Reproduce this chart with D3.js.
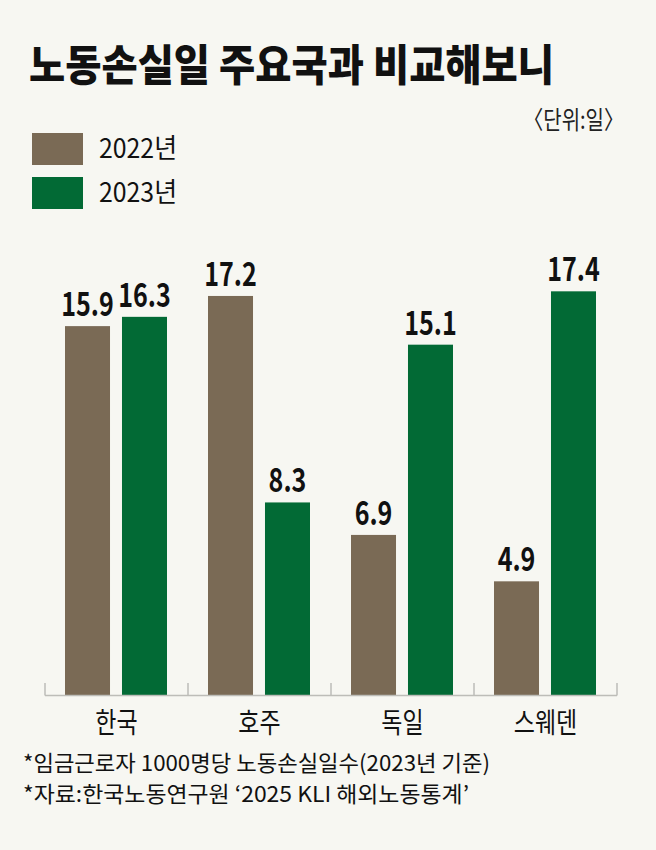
<!DOCTYPE html>
<html>
<head>
<meta charset="utf-8">
<script src="https://cdn.jsdelivr.net/npm/d3@7"></script>
<style>
  html, body { margin: 0; padding: 0; background: #f7f7f2; }
  svg { display: block; }
</style>
</head>
<body>
<div id="chart"></div>
<script>
// chart data
var categories = ["한국", "호주", "독일", "스웨덴"]
var seriesNames = ["2022년", "2023년"]
var values2022 = [15.9, 17.2, 6.9, 4.9]
var values2023 = [16.3, 8.3, 15.1, 17.4]
var seriesColors = ["#7a6a55", "#026a35"]

var titleText = "노동손실일 주요국과 비교해보니"
var unitText = "〈단위:일〉"
var notes = ["*임금근로자 1000명당 노동손실일수(2023년 기준)", "*자료:한국노동연구원 ‘2025 KLI 해외노동통계’"]

var width = 656, height = 850
var baseFont = "'Noto Sans CJK KR', sans-serif"

var svg = d3.select("#chart").append("svg")
    .attr("width", width)
    .attr("height", height)

svg.append("rect").attr("width", width).attr("height", height).attr("fill", "#f7f7f2")

// squeeze text horizontally, the original uses a condensed face
function squeeze(sel, ratio) {
    sel.each(function() {
        var w = this.getComputedTextLength()
        d3.select(this).attr("textLength", w * ratio).attr("lengthAdjust", "spacingAndGlyphs")
    })
}
function fitTo(sel, w) {
    sel.attr("textLength", w).attr("lengthAdjust", "spacingAndGlyphs")
}

// title
svg.append("text")
    .attr("x", 29).attr("y", 81)
    .style("font-family", baseFont)
    .style("font-weight", 900)
    .style("font-size", "43px")
    .attr("fill", "#111")
    .text(titleText)
    .call(fitTo, 525)

// unit
svg.append("text")
    .attr("x", 624).attr("y", 129)
    .attr("text-anchor", "end")
    .style("font-family", baseFont)
    .style("font-size", "25px")
    .attr("fill", "#222")
    .text(unitText)
    .call(squeeze, 0.8)

// legend
var legend = svg.append("g")
seriesNames.forEach(function(name, i) {
    var ly = 133 + i * 44
    legend.append("rect")
        .attr("x", 32).attr("y", ly)
        .attr("width", 51).attr("height", 32)
        .attr("fill", seriesColors[i])
    legend.append("text")
        .attr("x", 99).attr("y", ly + 25)
        .style("font-family", baseFont)
        .style("font-size", "27px")
        .attr("fill", "#111")
        .text(name)
        .call(fitTo, 78)
})

// scales
var baseY = 695
var x0 = d3.scaleBand().domain(categories).range([45, 617]).padding(0)
var x1 = d3.scaleBand().domain(seriesNames).range([20, 122]).paddingInner(0.21).paddingOuter(0)
var y = d3.scaleLinear().domain([0, 20]).range([baseY, baseY - 23.2 * 20])

var rows = categories.map(function(c, i) {
    return { country: c, vals: [values2022[i], values2023[i]] }
})

var groups = svg.append("g").selectAll("g")
    .data(rows)
    .enter().append("g")
    .attr("transform", function(d) { return "translate(" + x0(d.country) + ",0)" })

groups.selectAll("rect")
    .data(function(d) { return d.vals.map(function(v, j) { return { key: seriesNames[j], v: v, j: j } }) })
    .enter().append("rect")
    .attr("x", function(d) { return x1(d.key) })
    .attr("y", function(d) { return y(d.v) })
    .attr("width", x1.bandwidth())
    .attr("height", function(d) { return baseY - y(d.v) })
    .attr("fill", function(d) { return seriesColors[d.j] })

groups.selectAll("text.val")
    .data(function(d) { return d.vals.map(function(v, j) { return { key: seriesNames[j], v: v } }) })
    .enter().append("text")
    .attr("class", "val")
    .attr("x", function(d) { return x1(d.key) + x1.bandwidth() / 2 })
    .attr("y", function(d) { return y(d.v) - 10 })
    .attr("text-anchor", "middle")
    .style("font-family", baseFont)
    .style("font-weight", 700)
    .style("font-size", "33px")
    .attr("fill", "#111")
    .text(function(d) { return d3.format(".1f")(d.v) })
    .call(squeeze, 0.76)

// axis line with ticks at group borders
var axis = svg.append("g").attr("stroke", "#bdbdb8").attr("stroke-width", 1.5)
axis.append("line")
    .attr("x1", x0.range()[0]).attr("x2", x0.range()[1])
    .attr("y1", baseY + 0.5).attr("y2", baseY + 0.5)
var borders = categories.map(function(c) { return x0(c) }).concat([x0.range()[1]])
axis.selectAll("line.tick")
    .data(borders)
    .enter().append("line")
    .attr("class", "tick")
    .attr("x1", function(d) { return d }).attr("x2", function(d) { return d })
    .attr("y1", baseY - 12).attr("y2", baseY + 0.5)

// category labels
svg.append("g").selectAll("text")
    .data(categories)
    .enter().append("text")
    .attr("x", function(d) { return x0(d) + x0.bandwidth() / 2 })
    .attr("y", 733)
    .attr("text-anchor", "middle")
    .style("font-family", baseFont)
    .style("font-size", "28px")
    .attr("fill", "#111")
    .text(function(d) { return d })
    .call(squeeze, 0.82)

// footnotes
var noteWidths = [467, 446]
svg.append("g").selectAll("text")
    .data(notes)
    .enter().append("text")
    .attr("x", 23)
    .attr("y", function(d, i) { return 771 + i * 31 })
    .style("font-family", baseFont)
    .style("font-size", "22px")
    .attr("fill", "#111")
    .text(function(d) { return d })
    .each(function(d, i) { d3.select(this).call(fitTo, noteWidths[i]) })
</script>
</body>
</html>
